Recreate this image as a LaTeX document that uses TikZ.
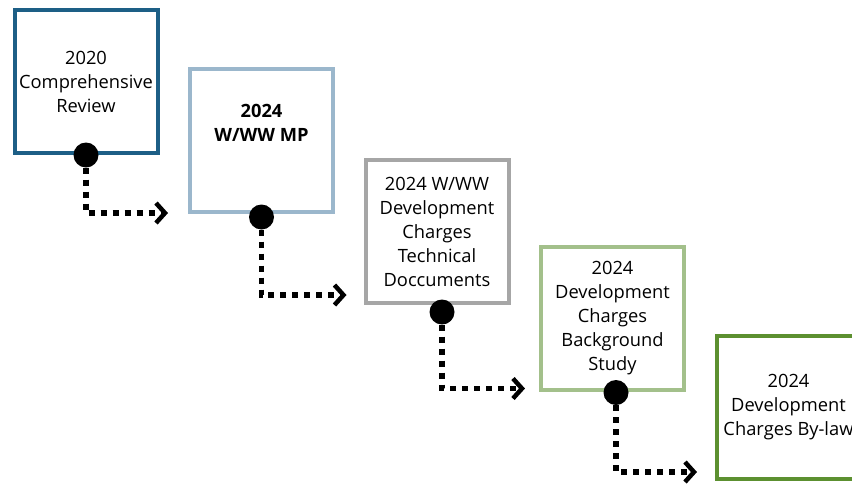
\documentclass[tikz,border=0pt]{standalone}
\usepackage{fontspec}
\setmainfont{Open Sans}
\usetikzlibrary{arrows.meta}
\definecolor{stepA}{HTML}{1D5F86}
\definecolor{stepB}{HTML}{9BB7CC}
\definecolor{stepC}{HTML}{A6A6A6}
\definecolor{stepD}{HTML}{A3C08B}
\definecolor{stepE}{HTML}{5C9030}
\begin{document}
\begin{tikzpicture}[x=1pt,y=-1pt,
  stage/.style={draw,line width=4pt,fill=white,minimum width=143pt,minimum height=143pt,align=center,inner sep=0pt,font=\fontsize{18.3}{24}\selectfont},
  pin/.style={circle,fill=black,minimum size=25pt,inner sep=0pt},
  flow/.style={line width=5.5pt,dash pattern=on 6pt off 6pt,-{Straight Barb[length=9pt,width=20pt,line width=4.5pt]}}]
\clip (0,0) rectangle (852,483);
\fill[white] (0,0) rectangle (852,483);
\node[stage,draw=stepA] (b1) at (86,81.5) {2020\\Comprehensive\\Review};
\node[stage,draw=stepB] (b2) at (261.5,140.5) {\bfseries 2024\\\bfseries W/WW MP\\[12pt]};
\node[stage,draw=stepC] (b3) at (437,231.5) {2024 W/WW\\Development\\Charges\\Technical\\Doccuments};
\node[stage,draw=stepD] (b4) at (612.5,318) {2024\\Development\\Charges\\Background\\Study};
\node[stage,draw=stepE] (b5) at (788.5,407.5) {2024\\Development\\Charges By-law};
\node[pin] (d1) at (b1.south) {};
\node[pin] (d2) at ([yshift=-3pt]b2.south) {};
\node[pin] (d3) at ([shift={(5pt,-7pt)}]b3.south) {};
\node[pin] (d4) at ([shift={(3.5pt,-1pt)}]b4.south) {};
\draw[flow] (d1) |- ([shift={(-20pt,1pt)}]b2.south west);
\draw[flow] (d2) |- ([shift={(-17pt,10pt)}]b3.south west);
\draw[flow] (d3) |- ([shift={(-14pt,3pt)}]b4.south west);
\draw[flow] (d4) |- ([shift={(-18pt,9pt)}]b5.south west);
\end{tikzpicture}
\end{document}
